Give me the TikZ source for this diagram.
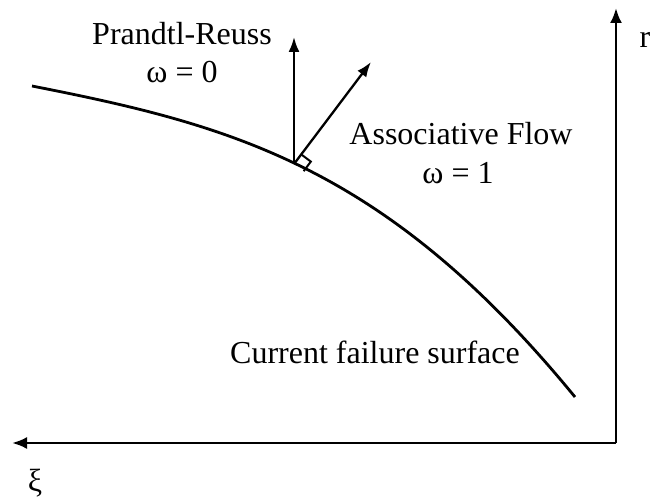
\documentclass[tikz,border=0pt]{standalone}
\usepackage{fontspec}
\setmainfont{Liberation Serif}
\usetikzlibrary{arrows.meta,calc}
\begin{document}
\begin{tikzpicture}[x=1pt,y=-1pt,
  lbl/.style={inner sep=0pt,font=\fontsize{32}{38}\selectfont,align=center},
  axis/.style={line width=2.6pt,-{Latex[length=15pt,width=12pt]}},
  flow/.style={line width=2.3pt,-{Latex[length=15pt,width=11pt]}},
  surf/.style={line width=2.8pt}]
\useasboundingbox (0,0) rectangle (653,500);
% axes
\coordinate (O) at (616,443);
\coordinate (rtip) at (616,8);
\coordinate (xtip) at (12,443);
\draw[axis] (O) -- (rtip);
\draw[axis] (O) -- (xtip);
\node[lbl,anchor=base] (r) at (645,48) {r};
\node[lbl,anchor=base] (xi) at (35,491) {ξ};
% failure surface
\coordinate (s0) at (32,86);
\coordinate (s1) at (575,397);
\draw[surf] (s0) .. controls (230,125) and (385,165) .. (s1);
% flow vectors
\coordinate (B) at (294,164);
\coordinate (ptip) at (294,37);
\coordinate (atip) at (371,62);
\draw[flow] (B) -- (ptip);
\draw[flow] (B) -- (atip);
\draw[line width=2pt] ($(B)+(7.2,-9.6)$) -- ++(9.6,7.2) -- ++(-7.2,9.6);
% labels
\node[lbl,anchor=base] (pr) at (182,45) {Prandtl-Reuss};
\node[lbl,anchor=base] (pr0) at (182,83) {ω = 0};
\node[lbl,anchor=base] (af) at (461,145) {Associative Flow};
\node[lbl,anchor=base] (af1) at (458,183) {ω = 1};
\node[lbl,anchor=base] (cf) at (375,363) {Current failure surface};
\end{tikzpicture}
\end{document}
